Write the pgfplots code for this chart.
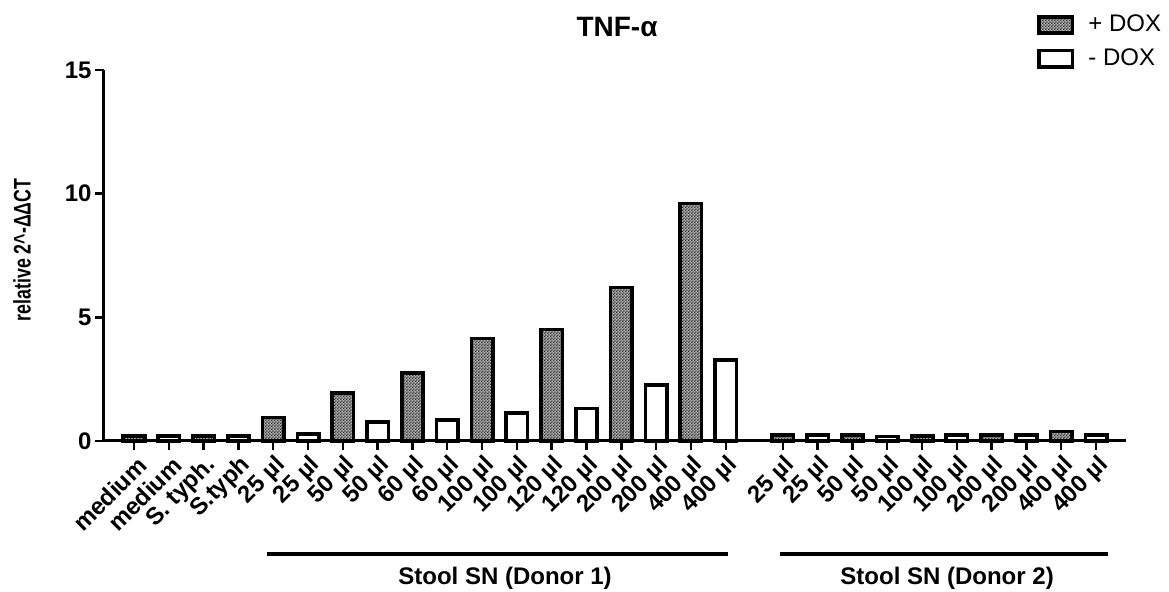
\documentclass[border=0pt]{standalone}
\usepackage{fontspec}
\setmainfont{Liberation Sans}
\usepackage{pgfplots}
\pgfplotsset{compat=1.18}
\usetikzlibrary{patterns}

% fine checker texture for the +DOX bars
\pgfdeclarepatternformonly{finechecker}{\pgfpointorigin}{\pgfpoint{1.6pt}{1.6pt}}{\pgfpoint{1.6pt}{1.6pt}}{%
  \pgfpathrectangle{\pgfpointorigin}{\pgfpoint{0.8pt}{0.8pt}}%
  \pgfpathrectangle{\pgfpoint{0.8pt}{0.8pt}}{\pgfpoint{0.8pt}{0.8pt}}%
  \pgfusepath{fill}}

\begin{document}
\begin{tikzpicture}
\useasboundingbox (-52pt,-75.5pt) rectangle (532.5pt,220.5pt);
\begin{axis}[
  at={(0pt,0pt)}, anchor=south west,
  scale only axis,
  width=511pt, height=185.5pt,
  xmin=-0.862, xmax=28.5,
  ymin=0, ymax=15,
  clip=false,
  axis lines=left,
  axis line style={-, line width=1.5pt},
  tick align=outside,
  major tick length=4.5pt,
  tick style={line width=1.2pt, black},
  ytick={0,5,10,15},
  xtick={0,1,2,3,4,5,6,7,8,9,10,11,12,13,14,15,16,17,18.64,19.64,20.64,21.64,22.64,23.64,24.64,25.64,26.64,27.64},
  xticklabels={medium,medium,S. typh.,S.typh,25 µl,25 µl,50 µl,50 µl,60 µl,60 µl,100 µl,100 µl,120 µl,120 µl,200 µl,200 µl,400 µl,400 µl,25 µl,25 µl,50 µl,50 µl,100 µl,100 µl,200 µl,200 µl,400 µl,400 µl},
  /pgf/number format/assume math mode=true,
  y tick label style={font=\bfseries\fontsize{12}{14}\selectfont, inner sep=1.5pt},
  x tick label style={font=\bfseries\fontsize{12}{14}\selectfont, xshift=5pt, yshift=-5pt, rotate=45, anchor=east, inner sep=1pt},
  ylabel={\scalebox{0.74}[1]{relative 2\textasciicircum-ΔΔCT}},
  ylabel style={font=\bfseries\fontsize{12}{14}\selectfont, at={(axis description cs:-0.0802,0.515)}, anchor=center},
  title={TNF-α},
  title style={font=\bfseries\fontsize{14}{16}\selectfont, at={(rel axis cs:0.502,1)}, anchor=center, yshift=15.5pt},
  legend style={draw=none, fill=none, at={(rel axis cs:0.913,1.16)}, anchor=north west,
    font=\fontsize{12}{14}\selectfont, inner sep=0pt, row sep=3pt,
    nodes={inner xsep=7pt}},
  legend cell align=left,
  legend image code/.code={\draw[#1, line width=1.8pt] (0pt,-4.1pt) rectangle (16.7pt,4.1pt);},
  bar width=0.615,
]
% + DOX
\addplot[ybar, bar shift=0pt, draw=black, line width=1.8pt, fill=black!30,
  postaction={pattern=finechecker, pattern color=black!80}] coordinates {
  (0,0.20) (2,0.20) (4,0.95) (6,1.95) (8,2.75) (10,4.15) (12,4.50) (14,6.20) (16,9.60)
  (18.64,0.25) (20.64,0.25) (22.64,0.20) (24.64,0.25) (26.64,0.38)
};
\addlegendentry{+ DOX}
% - DOX
\addplot[ybar, bar shift=0pt, draw=black, line width=1.8pt, fill=white] coordinates {
  (1,0.20) (3,0.20) (5,0.28) (7,0.77) (9,0.85) (11,1.12) (13,1.32) (15,2.27) (17,3.28)
  (19.64,0.25) (21.64,0.18) (23.64,0.25) (25.64,0.25) (27.64,0.25)
};
\addlegendentry{- DOX}
% donor group brackets
\draw[line width=2.2pt] ([yshift=-56.5pt]axis cs:3.82,0) -- ([yshift=-56.5pt]axis cs:17.07,0);
\draw[line width=1.6pt] ([yshift=-56.5pt]axis cs:18.56,0) -- ([yshift=-56.5pt]axis cs:27.99,0);
\node[font=\bfseries\fontsize{12}{14}\selectfont] at ([yshift=-68.5pt]axis cs:10.66,0) {Stool SN (Donor 1)};
\node[font=\bfseries\fontsize{12}{14}\selectfont] at ([yshift=-68.5pt]axis cs:23.36,0) {Stool SN (Donor 2)};
\end{axis}
\end{tikzpicture}
\end{document}
